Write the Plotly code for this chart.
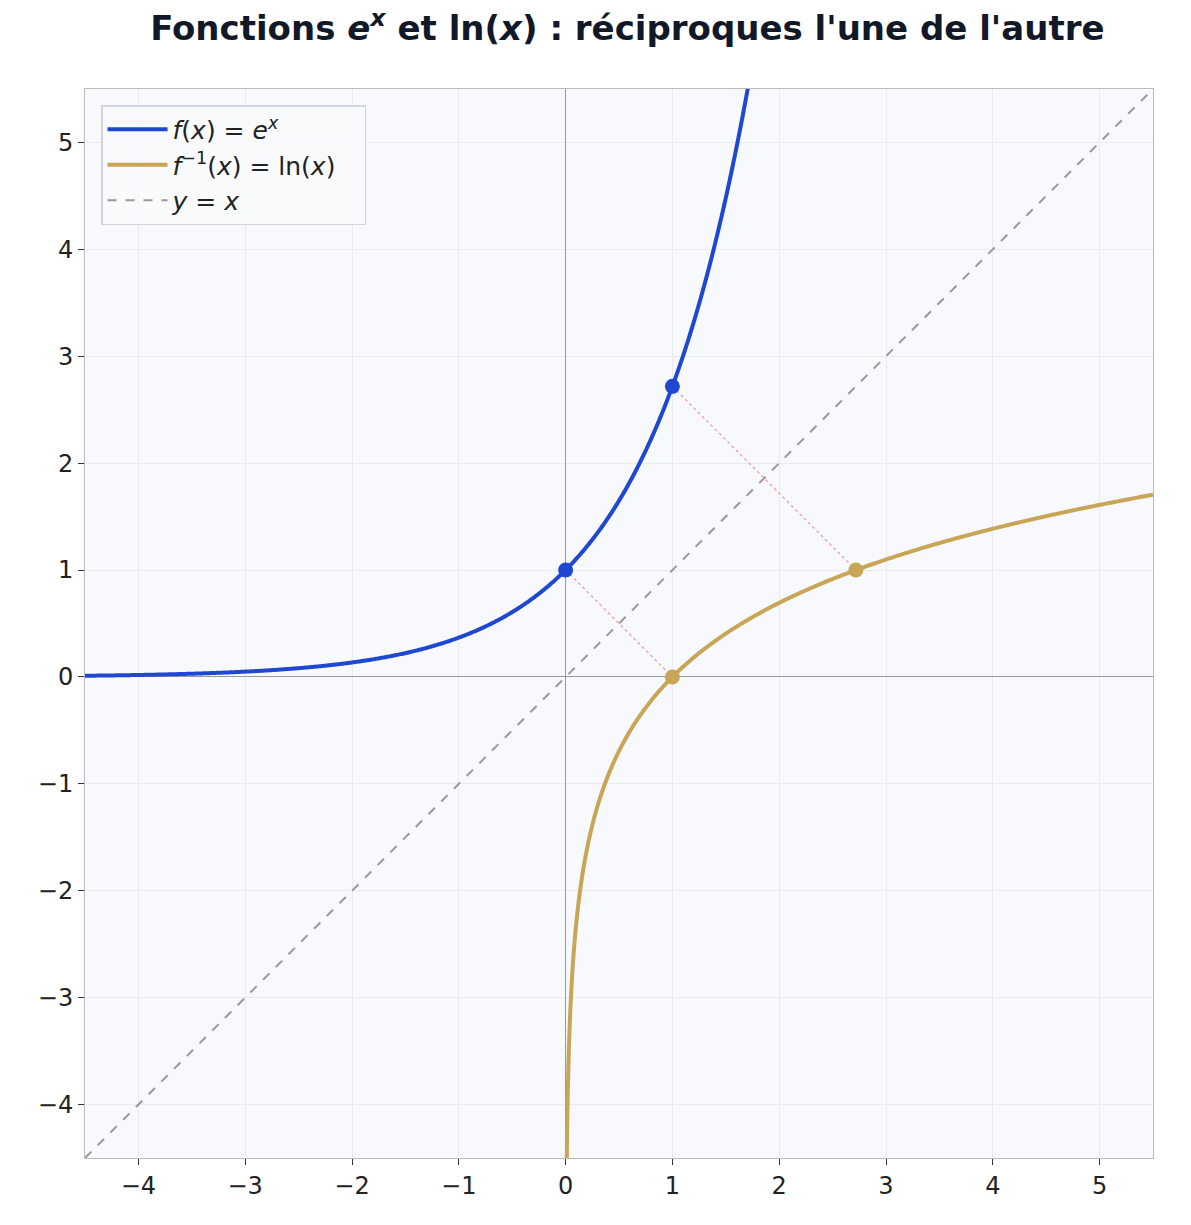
import numpy as np
import plotly.graph_objects as go

x_exp = np.linspace(-4.5, 1.71, 600)
y_exp = np.exp(x_exp)
x_ln = np.concatenate([np.geomspace(0.011, 0.2, 300), np.linspace(0.2, 5.5, 400)])
y_ln = np.log(x_ln)
diag = [-4.5, 5.5]
pts_exp_x = [0, 1]
pts_exp_y = [1, np.e]
pts_ln_x = [1, np.e]
pts_ln_y = [0, 1]
xticks = [-4, -3, -2, -1, 0, 1, 2, 3, 4, 5]
yticks = [-4, -3, -2, -1, 0, 1, 2, 3, 4, 5]

BLUE = "#1f47d1"
GOLD = "#c9a557"

fig = go.Figure()
for a, b in zip(pts_exp_x, pts_exp_y):
    fig.add_trace(go.Scatter(x=[a, b], y=[b, a], mode="lines", showlegend=False,
                             line=dict(color="#e89a9a", width=1.2, dash="dot")))
fig.add_trace(go.Scatter(x=x_exp, y=y_exp, mode="lines", name="<i>f</i>(<i>x</i>) = <i>e<sup>x</sup></i>   ",
                         line=dict(color=BLUE, width=4, simplify=False)))
fig.add_trace(go.Scatter(x=x_ln, y=y_ln, mode="lines", name="<i>f</i><sup>−1</sup>(<i>x</i>) = ln(<i>x</i>)   ",
                         line=dict(color=GOLD, width=4, simplify=False)))
fig.add_trace(go.Scatter(x=diag, y=diag, mode="lines", name="<i>y</i> = <i>x</i>",
                         line=dict(color="#999999", width=2, dash="dash")))
fig.add_trace(go.Scatter(x=pts_exp_x, y=pts_exp_y, mode="markers", showlegend=False,
                         marker=dict(color=BLUE, size=15)))
fig.add_trace(go.Scatter(x=pts_ln_x, y=pts_ln_y, mode="markers", showlegend=False,
                         marker=dict(color=GOLD, size=15)))

ax = dict(showgrid=True, gridcolor="#e8ebf0", zeroline=True, zerolinecolor="#999999",
          zerolinewidth=1.3, showline=True, linecolor="#bbbbbb", mirror=True,
          ticks="outside", ticklen=6, tickcolor="#333", tickfont=dict(size=24, color="#222"))
fig.update_xaxes(range=[-4.5, 5.5], tickvals=xticks, ticktext=[str(t).replace("-", "−") for t in xticks], **ax)
fig.update_yaxes(range=[-4.5, 5.5], tickvals=yticks, ticktext=[str(t).replace("-", "−") for t in yticks], **ax)
fig.update_layout(
    width=1191, height=1225, margin=dict(l=77, r=46, t=81, b=75),
    plot_bgcolor="#f7f9fc", paper_bgcolor="white",
    font=dict(family="DejaVu Sans", color="#222"),
    title=dict(text="<b>Fonctions <i>e<sup>x</sup></i> et ln(<i>x</i>) : réciproques l'une de l'autre</b>",
               x=0.52, xanchor="center", y=0.993, yanchor="top", font=dict(size=34, color="#111827")),
    legend=dict(x=0.015, y=0.985, xanchor="left", yanchor="top", bgcolor="rgba(247,249,252,0.9)",
                bordercolor="#d0d4dc", borderwidth=1.5, font=dict(size=25), itemwidth=60,
                tracegroupgap=12),
)
fig.write_html("out.html")
